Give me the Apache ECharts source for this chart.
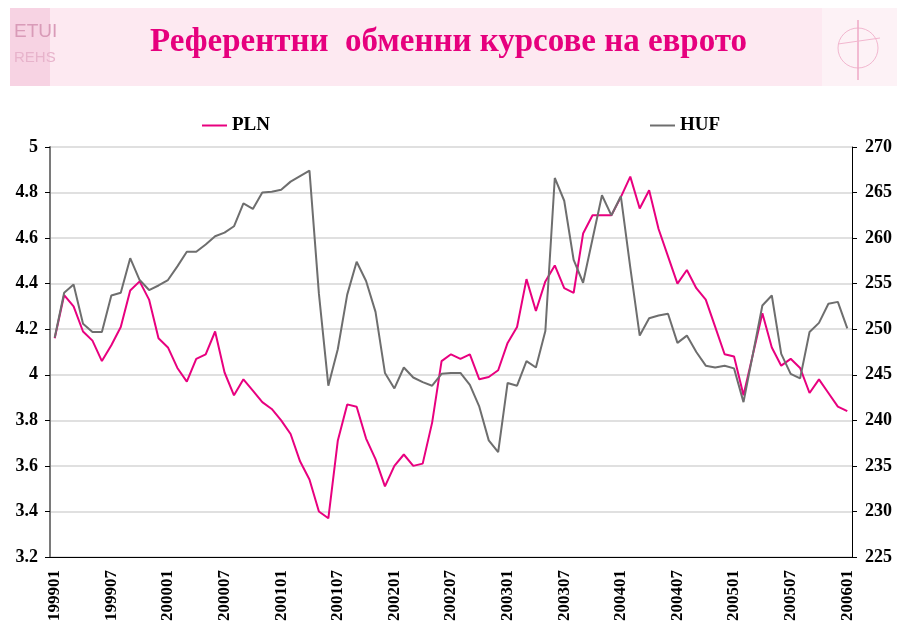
<!DOCTYPE html>
<html>
<head>
<meta charset="utf-8">
<script src="https://cdn.jsdelivr.net/npm/echarts@6/dist/echarts.min.js"></script>
<style>
  html, body { margin: 0; padding: 0; background: #fff; }
  #chart { width: 897px; height: 621px; }
</style>
</head>
<body>
<div id="chart"></div>
<script>
// месеци 199901 .. 200601
const years = [1999, 2000, 2001, 2002, 2003, 2004, 2005, 2006]
const months = ['01', '02', '03', '04', '05', '06', '07', '08', '09', '10', '11', '12']
const categories = []
years.forEach(y => months.forEach(m => {
  if (y < 2006 || m === '01') categories.push(`${y}${m}`)
}))

// PLN за евро (лява скала)
const plnValues = [
  4.16, 4.35, 4.30, 4.19, 4.15, 4.06, 4.13, 4.21, 4.37, 4.41, 4.33, 4.16,
  4.12, 4.03, 3.97, 4.07, 4.09, 4.19, 4.01, 3.91, 3.98, 3.93, 3.88, 3.85,
  3.80, 3.74, 3.62, 3.54, 3.40, 3.37, 3.71, 3.87, 3.86, 3.72, 3.63, 3.51,
  3.60, 3.65, 3.60, 3.61, 3.79, 4.06, 4.09, 4.07, 4.09, 3.98, 3.99, 4.02,
  4.14, 4.21, 4.42, 4.28, 4.41, 4.48, 4.38, 4.36, 4.62, 4.70, 4.70, 4.70,
  4.78, 4.87, 4.73, 4.81, 4.64, 4.52, 4.40, 4.46, 4.38, 4.33, 4.21, 4.09,
  4.08, 3.91, 4.09, 4.27, 4.12, 4.04, 4.07, 4.03, 3.92, 3.98, 3.92, 3.86,
  3.84
]

// HUF за евро (дясна скала)
const hufValues = [
  249.1, 254.0, 254.9, 250.6, 249.7, 249.7, 253.7, 254.0, 257.8, 255.4, 254.3, 254.8,
  255.4, 256.9, 258.5, 258.5, 259.3, 260.2, 260.6, 261.3, 263.8, 263.2, 265.0, 265.1,
  265.3, 266.2, 266.8, 267.4, 253.9, 243.8, 247.8, 253.8, 257.4, 255.3, 251.9, 245.2,
  243.5, 245.8, 244.7, 244.2, 243.8, 245.1, 245.2, 245.2, 243.9, 241.5, 237.8, 236.5,
  244.1, 243.8, 246.5, 245.8, 249.8, 266.6, 264.1, 257.6, 255.1, 259.9, 264.7, 262.5,
  264.6, 256.8, 249.3, 251.2, 251.5, 251.7, 248.5, 249.3, 247.5, 246.0, 245.8, 246.0,
  245.7, 242.0, 247.3, 252.6, 253.7, 247.3, 245.1, 244.6, 249.7, 250.7, 252.8, 253.0,
  250.1
]

const leftTicks = { min: 3.2, max: 5, interval: 0.2 }
const rightTicks = { min: 225, max: 270, interval: 5 }

const serif = '"Liberation Serif", "DejaVu Serif", serif'
const pink = '#e8007f'
const grey = '#6e6e6e'

const chart = echarts.init(document.getElementById('chart'))
chart.setOption({
  animation: false,
  backgroundColor: '#fff',
  graphic: [
    // заглавна лента
    { type: 'rect', shape: { x: 10, y: 8, width: 887, height: 78 }, style: { fill: '#fde9f1' } },
    { type: 'rect', shape: { x: 10, y: 8, width: 40, height: 78 }, style: { fill: '#f7d3e3' } },
    { type: 'text', left: 14, top: 22, style: { text: 'ETUI', font: '19px "Liberation Sans", sans-serif', fill: '#d99bb8' } },
    { type: 'text', left: 14, top: 50, style: { text: 'REHS', font: '15px "Liberation Sans", sans-serif', fill: '#e7b3cb' } },
    { type: 'rect', shape: { x: 822, y: 8, width: 75, height: 78 }, style: { fill: '#fdf2f6' } },
    { type: 'circle', shape: { cx: 858, cy: 48, r: 20 }, style: { fill: 'none', stroke: '#f2b7cf', lineWidth: 1 } },
    { type: 'line', shape: { x1: 858, y1: 20, x2: 858, y2: 80 }, style: { stroke: '#eea8c6', lineWidth: 1.5 } },
    { type: 'line', shape: { x1: 838, y1: 44, x2: 880, y2: 38 }, style: { stroke: '#f2b7cf', lineWidth: 1 } },
    {
      type: 'text', left: 'center', top: 26,
      style: { text: 'Референтни  обменни курсове на еврото', font: 'bold 33px ' + serif, fill: '#e6007e' }
    }
  ],
  legend: [
    {
      data: ['PLN'], left: 197, top: 111, icon: 'rect', itemWidth: 25, itemHeight: 2,
      textStyle: { fontFamily: serif, fontWeight: 'bold', fontSize: 19, color: '#000' }
    },
    {
      data: ['HUF'], left: 645, top: 111, icon: 'rect', itemWidth: 25, itemHeight: 2,
      textStyle: { fontFamily: serif, fontWeight: 'bold', fontSize: 19, color: '#000' }
    }
  ],
  grid: { left: 50, right: 45, top: 147, bottom: 64, containLabel: false, outerBoundsMode: 'none' },
  xAxis: {
    type: 'category',
    data: categories,
    boundaryGap: true,
    axisLine: { lineStyle: { color: '#000', width: 1 } },
    axisTick: { interval: 2, length: 5, lineStyle: { color: '#000' } },
    axisLabel: {
      interval: 5, rotate: 90, margin: 13,
      fontFamily: serif, fontWeight: 'bold', fontSize: 17, color: '#000'
    },
    splitLine: { show: false }
  },
  yAxis: [
    {
      type: 'value', position: 'left',
      min: leftTicks.min, max: leftTicks.max, interval: leftTicks.interval,
      axisLine: { show: true, lineStyle: { color: '#7a7a7a', width: 2 } },
      axisTick: { show: true, length: 5, lineStyle: { color: '#000' } },
      axisLabel: {
        margin: 12, fontFamily: serif, fontWeight: 'bold', fontSize: 18, color: '#000',
        formatter: v => String(Math.round(v * 10) / 10)
      },
      splitLine: { show: true, lineStyle: { color: '#d6d6d6', width: 1.5 } }
    },
    {
      type: 'value', position: 'right',
      min: rightTicks.min, max: rightTicks.max, interval: rightTicks.interval,
      axisLine: { show: true, lineStyle: { color: '#000', width: 1 } },
      axisTick: { show: true, length: 5, lineStyle: { color: '#000' } },
      axisLabel: { margin: 13, fontFamily: serif, fontWeight: 'bold', fontSize: 18, color: '#000' },
      splitLine: { show: false }
    }
  ],
  series: [
    {
      name: 'PLN', type: 'line', yAxisIndex: 0, data: plnValues,
      symbol: 'none', lineStyle: { color: pink, width: 2 }, itemStyle: { color: pink }
    },
    {
      name: 'HUF', type: 'line', yAxisIndex: 1, data: hufValues,
      symbol: 'none', lineStyle: { color: grey, width: 2 }, itemStyle: { color: grey }
    }
  ]
})
</script>
</body>
</html>
